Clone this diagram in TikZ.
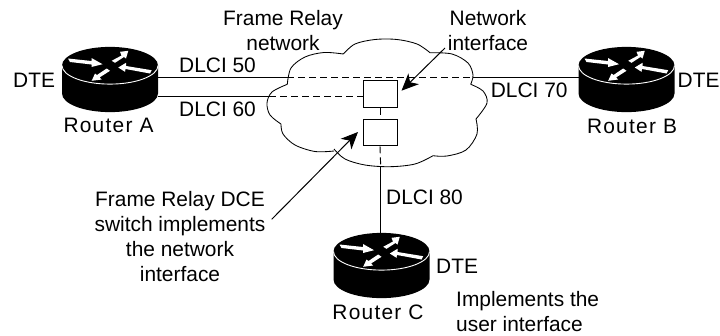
\documentclass[tikz,border=0pt]{standalone}
\usepackage{fontspec}
\setmainfont{Liberation Sans}
\newfontfamily\rtfont[LetterSpace=6]{Liberation Sans}
\usetikzlibrary{arrows.meta,positioning}
\newcommand{\txtsize}{\fontsize{20.9}{25}\selectfont}
\tikzset{
    txtsty/.style={inner sep=0pt,font=\txtsize,align=center},
    lftsty/.style={txtsty,anchor=base west},
    rtnmsty/.style={inner sep=0pt,font=\rtfont\txtsize,anchor=base},
    linesty/.style={draw,line width=0.95pt},
    dashsty/.style={linesty,dash pattern=on 7pt off 4pt},
    cloudsty/.style={draw,line width=0.85pt,smooth,tension=0.55},
    boxsty/.style={draw,line width=0.95pt,fill=white,rectangle,minimum width=34pt,minimum height=26.5pt,inner sep=0pt},
    callsty/.style={draw,line width=1pt,-{Stealth[length=17pt,width=15pt,inset=5pt]}},
    rimsty/.style={draw=white,line width=0.9pt},
    arwsty/.style={fill=white},
}
\newcommand{\routerpic}[2]{
  \begin{scope}[shift={#2}]
    \coordinate (#1) at (0,0);
    \fill (-48,0) -- (-48,28) arc[start angle=180,end angle=0,x radius=48,y radius=18.6]
          -- (48,0) arc[start angle=0,end angle=-180,x radius=48,y radius=18.6] -- cycle;
    \draw[rimsty] (-48,0) arc[start angle=180,end angle=0,x radius=48,y radius=18.6];
    % four tapered arrows
    \fill[arwsty] (-42,-7) -- (-18.5,-4.5) -- (-18.5,-7.5) -- (-7.5,-1.3) -- (-18.5,1.5) -- (-18.5,-1) -- (-40,-3.5) -- cycle;
    \fill[arwsty] (1.7,-4.7) -- (11.5,-10) -- (10,-13.7) -- (18.3,-14.7) -- (16,-7) -- (14,-8.5) -- (5,-2.7) -- cycle;
    \fill[arwsty] (8.3,2) -- (16,-2.7) -- (16,0.5) -- (41.7,4.7) -- (40,8) -- (15.5,3.5) -- (15,6.3) -- cycle;
    \fill[arwsty] (-18.3,15.3) -- (-15,8) -- (-13,9.5) -- (-3.3,3) -- (0,5.3) -- (-10.5,12) -- (-8.3,14) -- cycle;
  \end{scope}
}
\begin{document}
\begin{tikzpicture}[x=1pt,y=-1pt]
\useasboundingbox (0,0) rectangle (720,335);

% routers
\routerpic{rtA}{(110,65.5)}
\routerpic{rtB}{(626.5,65.5)}
\routerpic{rtC}{(381.5,251.5)}

% cloud
\draw[cloudsty] plot coordinates {(287.3,84.3) (291,68) (305,57) (324,52.5) (343.3,54)};
\draw[cloudsty] plot coordinates {(343.3,54) (355,44) (375,39.5) (397,39.5) (417,44) (430,52.7)};
\draw[cloudsty] plot coordinates {(430,52.7) (452,54) (468,63) (473,75) (470.7,84.3)};
\draw[cloudsty] plot coordinates {(470.7,84.3) (483,91) (487,103) (476,119)};
\draw[cloudsty] plot coordinates {(476,119) (477,134) (466,150) (447,156) (433,155.7)};
\draw[cloudsty] plot coordinates {(433,155.7) (415,164) (390,166.7) (365,165) (345,159) (334,149)};
\draw[cloudsty] plot coordinates {(334,151) (315,151.5) (295,145) (283,134) (281,124)};
\draw[cloudsty] plot coordinates {(281,124) (270,115) (267,103) (272,92) (287.3,84.3)};

% switch boxes
\node[boxsty] (nibox) at (380,94) {};
\node[boxsty] (dcebox) at (380,132.7) {};

% line ends
\coordinate (a50) at (158,77.5);
\coordinate (a60) at (158,96);
\coordinate (b70) at (578.5,77.5);
\coordinate (c80) at (380.7,233);
\coordinate (cl50) at (287.3,77.5);
\coordinate (cl70) at (472.5,77.5);
\coordinate (cl60) at (269,96);
\coordinate (cl80) at (380.7,166.5);
\coordinate (in60) at (363,96);

\draw[linesty] (a50) -- (cl50);
\draw[dashsty] (cl50) -- (cl70);
\draw[linesty] (cl70) -- (b70);
\draw[linesty] (a60) -- (cl60);
\draw[dashsty] (cl60) -- (in60);
\draw[dashsty] (nibox.south) -- (dcebox.north);
\draw[dashsty] (dcebox.south) -- (cl80);
\draw[linesty] (cl80) -- (c80);

% labels
\node[txtsty] (frnet) at (283,30.5) {Frame Relay\\network};
\node[txtsty] (nwif) at (488,30.5) {Network\\interface};
\node[lftsty] (dtea) at (13,87) {DTE};
\node[lftsty] (dteb) at (677.5,87) {DTE};
\node[lftsty] (dtec) at (436,273.7) {DTE};
\node[rtnmsty] (lbla) at (108.5,132.7) {Router A};
\node[rtnmsty] (lblb) at (632,133) {Router B};
\node[rtnmsty] (lblc) at (378,319.7) {Router C};
\node[lftsty] (d50) at (179,72.7) {DLCI 50};
\node[lftsty] (d60) at (179,116.7) {DLCI 60};
\node[lftsty] (d70) at (490.7,97.7) {DLCI 70};
\node[lftsty] (d80) at (386,204) {DLCI 80};
\node[txtsty,anchor=west,align=left] (impl) at (456,311.5) {Implements the\\user interface};
\node[txtsty] (dcetxt) at (180,237) {Frame Relay DCE\\switch implements\\the network\\interface};

% callouts
\coordinate (nitip) at (401.5,90.7);
\coordinate (dcetip) at (358,132);
\coordinate (nist) at (445,48);
\coordinate (dcest) at (271.7,219.3);
\draw[callsty] (nist) -- (nitip);
\draw[callsty] (dcest) -- (dcetip);
\end{tikzpicture}
\end{document}
